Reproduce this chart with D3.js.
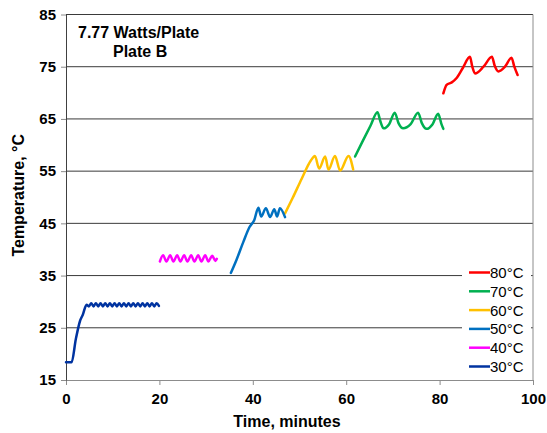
<!DOCTYPE html>
<html>
<head>
<meta charset="utf-8">
<script src="https://cdn.jsdelivr.net/npm/d3@7"></script>
<style>
  body { margin: 0; background: #fff; }
  svg { font-family: "Liberation Sans", Arial, sans-serif; }
</style>
</head>
<body>
<svg id="chart"></svg>
<script>
//chart data (time in minutes, temperature in °C)
const s30 = [[0,18.4],[1.2,18.4],[2.1,22.8],[3.0,26.3],[3.6,27.5],[4.4,29.4],
  [4.9,29.1],[5.4,29.7],[5.9,29.1],[6.4,29.7],[6.9,29.1],[7.4,29.7],[7.9,29.1],[8.4,29.7],
  [8.9,29.1],[9.4,29.7],[9.9,29.1],[10.4,29.7],[10.9,29.1],[11.4,29.7],[11.9,29.1],[12.4,29.7],
  [12.9,29.1],[13.4,29.7],[13.9,29.1],[14.4,29.7],[14.9,29.1],[15.4,29.7],[15.9,29.1],[16.4,29.7],
  [16.9,29.1],[17.4,29.7],[17.9,29.1],[18.4,29.7],[18.9,29.1],[19.4,29.7],[19.9,29.2]];
const s40 = [[20.1,37.7],[20.8,38.9],[21.5,37.7],[22.3,38.9],[23.0,37.7],[23.8,38.9],[24.5,37.7],
  [25.3,38.9],[26.0,37.7],[26.8,38.9],[27.5,37.7],[28.3,38.9],[29.0,37.7],[29.8,38.9],[30.5,37.7],
  [31.3,38.8],[32.0,37.8],[32.3,38.2]];
const s50 = [[35.3,35.5],[36.5,38.0],[38.0,41.5],[39.3,44.3],[40.3,45.6],[41.2,48.0],[41.8,46.3],
  [42.8,47.9],[43.7,46.2],[44.6,47.7],[45.2,46.3],[45.8,47.9],[46.9,46.2]];
const s60 = [[46.9,46.9],[48.5,49.8],[50.5,53.6],[52.4,57.0],[53.3,57.9],[54.2,55.5],[55.5,57.8],
  [56.2,55.3],[57.6,57.9],[58.7,55.1],[60.5,57.9],[61.5,55.3]];
const s70 = [[61.9,57.8],[63.5,60.7],[65.2,63.7],[66.7,66.3],[67.3,64.6],[68.0,63.2],[69.2,64.0],
  [70.4,66.2],[71.2,64.2],[72.2,63.2],[73.8,64.0],[75.4,66.2],[76.2,64.2],[77.2,63.1],[78.5,64.0],
  [79.7,66.0],[80.4,64.0],[80.8,63.1]];
const s80 = [[80.8,69.9],[81.5,71.5],[82.6,72.0],[83.6,72.8],[85.0,74.8],[86.5,76.9],[87.0,75.0],
  [87.6,73.7],[89.4,75.0],[91.2,76.9],[91.8,75.2],[92.6,74.1],[94.0,75.0],[95.4,76.7],[96.0,75.0],
  [96.7,73.4]];

const seriesNames = ["80°C", "70°C", "60°C", "50°C", "40°C", "30°C"];
const seriesData = [s80, s70, s60, s50, s40, s30];
const seriesColors = ["#ff0000", "#00b050", "#ffc000", "#0070c0", "#ff00ff", "#0033a0"];

const xTicks = [0, 20, 40, 60, 80, 100];
const yTicks = [15, 25, 35, 45, 55, 65, 75, 85];

//dimensions
const w = 547, h = 433;
const plotLeft = 66, plotRight = 533, plotTop = 14.5, plotBottom = 380;

const svg = d3.select("#chart").attr("width", w).attr("height", h);

const x = d3.scaleLinear().domain([0, 100]).range([plotLeft, plotRight]);
const y = d3.scaleLinear().domain([15, 85]).range([plotBottom, plotTop]);

//gridlines
svg.append("g")
  .selectAll("line")
  .data(yTicks.filter(d => d > 15))
  .join("line")
  .attr("x1", plotLeft).attr("x2", plotRight)
  .attr("y1", d => y(d)).attr("y2", d => y(d))
  .attr("stroke", "#3a3a3a")
  .attr("stroke-width", 1);

//right border
svg.append("line")
  .attr("x1", plotRight).attr("x2", plotRight)
  .attr("y1", plotTop).attr("y2", plotBottom)
  .attr("stroke", "#8c8c8c");

//axes
const xAxis = svg.append("g")
  .attr("transform", `translate(0,${plotBottom})`)
  .call(d3.axisBottom(x).tickValues(xTicks).tickSize(5).tickPadding(8).tickSizeOuter(0));
const yAxis = svg.append("g")
  .attr("transform", `translate(${plotLeft},0)`)
  .call(d3.axisLeft(y).tickValues(yTicks).tickSize(5).tickPadding(5).tickSizeOuter(0));

[xAxis, yAxis].forEach(a => {
  a.selectAll("path, line").attr("stroke", "#8c8c8c");
  a.selectAll("text")
    .attr("fill", "#000")
    .style("font-size", "15px")
    .style("font-weight", "bold")
    .style("font-family", "'Liberation Sans', Arial, sans-serif");
});
yAxis.select(".domain").attr("stroke", "#404040");

//lines
const line = d3.line()
  .x(d => x(d[0]))
  .y(d => y(d[1]))
  .curve(d3.curveMonotoneX);

svg.append("g")
  .selectAll("path")
  .data(seriesData)
  .join("path")
  .attr("d", line)
  .attr("fill", "none")
  .attr("stroke", (d, i) => seriesColors[i])
  .attr("stroke-width", 2.5)
  .attr("stroke-linejoin", "round")
  .attr("stroke-linecap", "round");

//legend
const legend = svg.append("g");
legend.append("rect")
  .attr("x", 462).attr("y", 262)
  .attr("width", 69).attr("height", 114)
  .attr("fill", "#fff");
const entries = legend.selectAll("g.entry")
  .data(seriesNames)
  .join("g")
  .attr("class", "entry")
  .attr("transform", (d, i) => `translate(0,${272.5 + i * 18.8})`);
entries.append("line")
  .attr("x1", 469).attr("x2", 490)
  .attr("stroke", (d, i) => seriesColors[i])
  .attr("stroke-width", 2.5);
entries.append("text")
  .attr("x", 490).attr("y", 5.5)
  .style("font-size", "15px")
  .text(d => d);

//annotation
svg.append("text")
  .attr("x", 78).attr("y", 38)
  .style("font-size", "16px").style("font-weight", "bold")
  .text("7.77 Watts/Plate");
svg.append("text")
  .attr("x", 113).attr("y", 57)
  .style("font-size", "16px").style("font-weight", "bold")
  .text("Plate B");

//axis titles
svg.append("text")
  .attr("x", 287).attr("y", 427)
  .attr("text-anchor", "middle")
  .style("font-size", "16px").style("font-weight", "bold")
  .text("Time, minutes");
svg.append("text")
  .attr("transform", `translate(24,${(plotTop + plotBottom) / 2 - 2}) rotate(-90)`)
  .attr("text-anchor", "middle")
  .style("font-size", "16px").style("font-weight", "bold")
  .text("Temperature, °C");
</script>
</body>
</html>
